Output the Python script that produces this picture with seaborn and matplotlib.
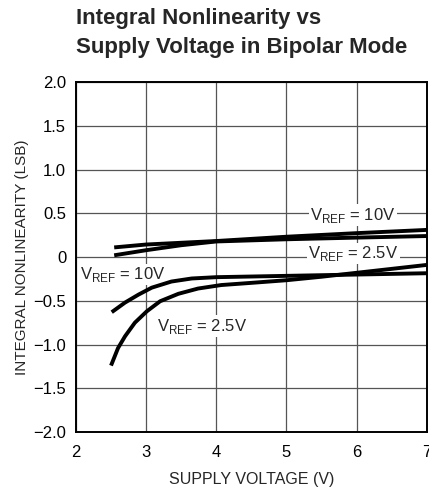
import matplotlib
matplotlib.use("Agg")
import matplotlib.pyplot as plt
import seaborn as sns
import pandas as pd

# Integral nonlinearity curves (LSB) vs supply voltage (V), bipolar mode
vref10_upper_x = [2.545, 3.0, 3.5, 4.0, 5.0, 6.0, 7.0]
vref10_upper_y = [0.11, 0.143, 0.163, 0.183, 0.232, 0.273, 0.31]

vref25_upper_x = [2.545, 3.0, 3.5, 4.0, 5.0, 6.0, 7.0]
vref25_upper_y = [0.02, 0.078, 0.135, 0.178, 0.203, 0.222, 0.24]

vref10_lower_x = [2.51, 2.7, 2.89, 3.08, 3.36, 3.65, 4.0, 5.0, 6.0, 7.0]
vref10_lower_y = [-0.63, -0.52, -0.43, -0.35, -0.28, -0.245, -0.23, -0.215, -0.2, -0.185]

vref25_lower_x = [2.5, 2.6, 2.7, 2.84, 3.01, 3.2, 3.46, 3.74, 4.07, 4.5, 5.0, 5.5, 6.0, 6.5, 7.0]
vref25_lower_y = [-1.24, -1.04, -0.905, -0.75, -0.62, -0.505, -0.42, -0.36, -0.32, -0.295, -0.265, -0.225, -0.18, -0.135, -0.09]

x_ticks = [2, 3, 4, 5, 6, 7]
y_ticks = [-2.0, -1.5, -1.0, -0.5, 0, 0.5, 1.0, 1.5, 2.0]
y_tick_labels = ["\u22122.0", "\u22121.5", "\u22121.0", "\u22120.5", "0", "0.5", "1.0", "1.5", "2.0"]

series = {
    "10V upper": (vref10_upper_x, vref10_upper_y),
    "2.5V upper": (vref25_upper_x, vref25_upper_y),
    "10V lower": (vref10_lower_x, vref10_lower_y),
    "2.5V lower": (vref25_lower_x, vref25_lower_y),
}
rows = []
for name, (xs, ys) in series.items():
    for x, y in zip(xs, ys):
        rows.append({"curve": name, "supply": x, "inl": y})
df = pd.DataFrame(rows)

sns.set_style("white")
plt.rcParams["font.family"] = ["Liberation Sans Narrow", "Liberation Sans", "DejaVu Sans"]

fig = plt.figure(figsize=(4.29, 4.91), dpi=100)
ax = fig.add_axes([0.177, 0.120, 0.818, 0.713])

sns.lineplot(data=df, x="supply", y="inl", hue="curve", palette=["black"] * 4,
             linewidth=2.8, legend=False, ax=ax, estimator=None, sort=True, zorder=3)
for ln in ax.lines:
    ln.set_solid_joinstyle("round")
    ln.set_solid_capstyle("butt")

ax.set_xlim(2, 7)
ax.set_ylim(-2, 2)
ax.set_xticks(x_ticks)
ax.set_xticklabels([str(t) for t in x_ticks])
ax.set_yticks(y_ticks)
ax.set_yticklabels(y_tick_labels)
ax.tick_params(axis="x", length=0, labelsize=12, colors="black", pad=9)
ax.tick_params(axis="y", length=0, labelsize=12, colors="black", pad=7)
ax.grid(True, color="#555555", linewidth=0.9)
ax.set_axisbelow(True)
for sp in ax.spines.values():
    sp.set_color("black")
    sp.set_linewidth(1.4)

ax.set_xlabel("SUPPLY VOLTAGE (V)", fontsize=11.5, labelpad=9)
ax.set_ylabel("INTEGRAL NONLINEARITY (LSB)", fontsize=11, labelpad=3)

fig.text(0.177, 1 - 8 / 491, "Integral Nonlinearity vs\nSupply Voltage in Bipolar Mode",
         ha="left", va="top", fontsize=16, fontweight="bold", linespacing=1.5)

# curve labels sit over the grid (white box) but under the curves
box = dict(facecolor="white", edgecolor="none", pad=1.0)
lab_kw = dict(fontsize=12, ha="center", va="center", zorder=2, bbox=box)
ax.text(5.95, 0.48, r"V$_{\mathregular{REF}}$ = 10V", **lab_kw)
ax.text(5.95, 0.04, r"V$_{\mathregular{REF}}$ = 2.5V", **lab_kw)
ax.text(2.67, -0.2, r"V$_{\mathregular{REF}}$ = 10V", **lab_kw)
ax.text(3.8, -0.79, r"V$_{\mathregular{REF}}$ = 2.5V", **lab_kw)

fig.savefig("out.png", dpi=100)
